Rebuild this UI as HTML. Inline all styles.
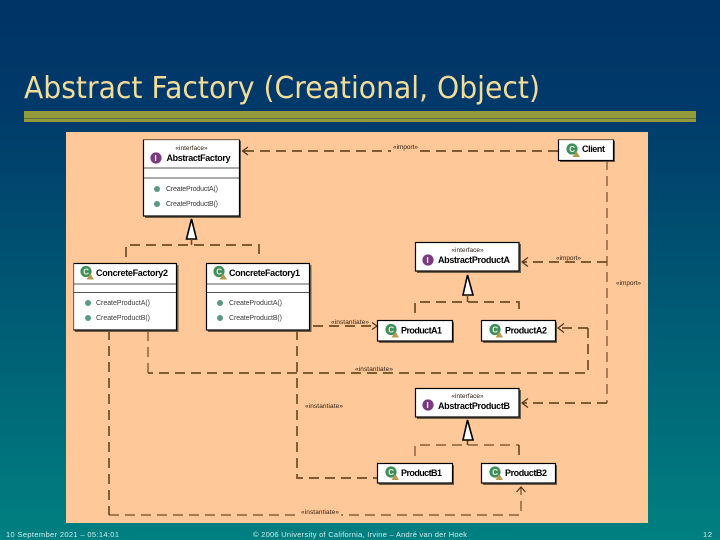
<!DOCTYPE html>
<html><head><meta charset="utf-8"><style>
html,body{margin:0;padding:0;width:720px;height:540px;overflow:hidden}
svg{display:block}
text{font-family:"Liberation Sans",sans-serif}
.d{fill:none;stroke:#6f4c24;stroke-width:1.7;stroke-dasharray:10 6}
.t{fill:none;stroke:#6f4c24;stroke-width:1.2;stroke-dasharray:10 6}
.s{font-size:6.5px;fill:#2e2214}
.n{font-size:9px;font-weight:bold;fill:#000}
.m{font-size:7px;fill:#3a3a3a}
.a{fill:none;stroke:#4e3418;stroke-width:1.2}
.b{fill:#fff;stroke:#000;stroke-width:1.2}
.h{fill:#555}
.f{font-size:7.500px;fill:#d4eeee}
</style></head><body>
<svg width="720" height="540" viewBox="0 0 720 540" xmlns="http://www.w3.org/2000/svg">
<defs>
<filter id="bl" x="0" y="0" width="1" height="1"><feGaussianBlur stdDeviation="0.25"/></filter>
<linearGradient id="g" x1="0" y1="0" x2="0" y2="1"><stop offset="0" stop-color="#003366"/><stop offset="0.2" stop-color="#003a6a"/><stop offset="1" stop-color="#008080"/></linearGradient>
<g id="c"><circle cx="0" cy="0" r="5.600" fill="#3f8f5a"/><text x="-2.800" y="2.800" font-size="8" font-weight="bold" fill="#e8f5e8">C</text><path d="M0.500 8L4.300 2L8 8Z" fill="#b59a50"/></g>
<g id="i"><circle cx="0" cy="0" r="5.600" fill="#7b3a80"/><text x="-1.700" y="3" font-size="8.500" font-weight="bold" fill="#fff">I</text></g>
</defs>
<rect width="720" height="540" fill="url(#g)"/>
<text x="24" y="98" font-size="30.500" fill="#f2dc98" textLength="516" lengthAdjust="spacingAndGlyphs" style="font-family:'DejaVu Sans',sans-serif">Abstract Factory (Creational, Object)</text>
<rect x="24" y="111" width="672" height="7.500" fill="#939a3c"/>
<rect x="24" y="118.500" width="672" height="1" fill="#1f3f3f"/>
<rect x="24" y="119" width="672" height="3" fill="#939a3c"/>
<rect x="66" y="132" width="582" height="391" fill="#ffc898"/>

<g filter="url(#bl)">
<!-- connectors -->
<path class="d" d="M558 151H243"/><path class="a" d="M248 147L242.500 151L248 155"/>
<path class="d" d="M126 257V245H259V257"/>
<path class="d" d="M313 326H377"/><path class="a" d="M372 322.500L377 326L372 329.500"/>
<path class="t" d="M607 160V403"/><path class="d" d="M607 403H523"/><path class="a" d="M528 398.500L522 403L528 407.500"/>
<path class="d" d="M607 262H523"/><path class="a" d="M528 257.500L522 262L528 266.500"/>
<path class="d" d="M415 313V302H519V313"/>
<path class="d" d="M588 328H559"/><path class="a" d="M564 323.500L558 328L564 332.500"/>
<path class="d" d="M588 328V373H148"/><path class="t" d="M148 373V330"/>
<path class="d" d="M297 330V478H377"/>
<path class="d" d="M109 330V515"/><path class="t" d="M109 515H521V488"/><path class="a" d="M516.500 492L521 487L525.500 492"/>
<path class="t" d="M415 456V445H519"/><path class="d" d="M519 445V456"/>
<path class="d" d="M467.500 440V445"/>

<!-- triangles -->
<path d="M191.500 219L186.500 239H196.500Z" fill="#fff" stroke="#000" stroke-width="1.600"/><path d="M191.500 239V245" stroke="#6f4c24" stroke-width="1.600"/>
<path d="M467.500 275L463 295H473Z" fill="#fff" stroke="#000" stroke-width="1.600"/><path d="M467.500 295V302" stroke="#6f4c24" stroke-width="1.600"/>
<path d="M467.500 420L463 440H473Z" fill="#fff" stroke="#000" stroke-width="1.600"/>

<!-- boxes -->
<g>
<rect x="145" y="141" width="96" height="77" fill="#6e5e4c"/>
<rect class="b" x="143.500" y="139.500" width="96" height="76.500"/>
<rect x="144" y="167.500" width="95" height="1" class="h"/><rect x="144" y="177.500" width="95" height="1" class="h"/>
<text class="s" x="191.500" y="150" text-anchor="middle">«interface»</text>
<use href="#i" x="156" y="158"/>
<text class="n" x="166.500" y="161" textLength="64">AbstractFactory</text>
<circle cx="157" cy="189" r="3" fill="#5a9a80"/><text class="m" x="166" y="191" textLength="52">CreateProductA()</text>
<circle cx="157" cy="204" r="3" fill="#5a9a80"/><text class="m" x="166" y="206" textLength="52">CreateProductB()</text>
</g>
<g>
<rect x="75" y="265" width="103.500" height="67" fill="#6e5e4c"/>
<rect class="b" x="73.500" y="263.500" width="103" height="66.500"/>
<rect x="74" y="283.500" width="102" height="1" class="h"/><rect x="74" y="292" width="102" height="1" class="h"/>
<use href="#c" x="86" y="271.500"/>
<text class="n" x="96" y="276" textLength="72">ConcreteFactory2</text>
<circle cx="88" cy="303" r="3" fill="#5a9a80"/><text class="m" x="96" y="305" textLength="54">CreateProductA()</text>
<circle cx="88" cy="318" r="3" fill="#5a9a80"/><text class="m" x="96" y="320" textLength="54">CreateProductB()</text>
</g>
<g>
<rect x="208" y="265" width="103.500" height="67" fill="#6e5e4c"/>
<rect class="b" x="206.500" y="263.500" width="103" height="66.500"/>
<rect x="207" y="283.500" width="102" height="1" class="h"/><rect x="207" y="292" width="102" height="1" class="h"/>
<use href="#c" x="219" y="271.500"/>
<text class="n" x="229" y="276" textLength="71">ConcreteFactory1</text>
<circle cx="220" cy="303" r="3" fill="#5a9a80"/><text class="m" x="229" y="305" textLength="53">CreateProductA()</text>
<circle cx="220" cy="318" r="3" fill="#5a9a80"/><text class="m" x="229" y="320" textLength="53">CreateProductB()</text>
</g>
<g>
<rect x="560" y="141" width="55" height="21" fill="#6e5e4c"/>
<rect class="b" x="558.500" y="139.500" width="55" height="21"/>
<use href="#c" x="572" y="149"/>
<text class="n" x="582" y="152" textLength="23">Client</text>
</g>
<g>
<rect x="417" y="244" width="104" height="29" fill="#6e5e4c"/>
<rect class="b" x="415.500" y="242.500" width="103.500" height="28.500"/>
<text class="s" x="467.500" y="252" text-anchor="middle">«interface»</text>
<use href="#i" x="428" y="260"/>
<text class="n" x="438" y="263" textLength="72">AbstractProductA</text>
</g>
<g>
<rect x="379" y="322" width="75" height="21" fill="#6e5e4c"/>
<rect class="b" x="377.500" y="320.500" width="75" height="20.500"/>
<use href="#c" x="391" y="329.500"/>
<text class="n" x="401" y="333.500" textLength="41">ProductA1</text>
</g>
<g>
<rect x="483" y="322" width="74" height="21" fill="#6e5e4c"/>
<rect class="b" x="481.500" y="320.500" width="74" height="20.500"/>
<use href="#c" x="495" y="329.500"/>
<text class="n" x="505" y="333.500" textLength="42">ProductA2</text>
</g>
<g>
<rect x="417" y="390" width="104" height="29" fill="#6e5e4c"/>
<rect class="b" x="415.500" y="388.500" width="103.500" height="28.500"/>
<text class="s" x="467.500" y="398" text-anchor="middle">«interface»</text>
<use href="#i" x="428" y="405"/>
<text class="n" x="438" y="409" textLength="72">AbstractProductB</text>
</g>
<g>
<rect x="379" y="465" width="75" height="20" fill="#6e5e4c"/>
<rect class="b" x="377.500" y="463.500" width="75" height="19.500"/>
<use href="#c" x="391" y="472"/>
<text class="n" x="401" y="476" textLength="41">ProductB1</text>
</g>
<g>
<rect x="483" y="465" width="74" height="20" fill="#6e5e4c"/>
<rect class="b" x="481.500" y="463.500" width="74" height="19.500"/>
<use href="#c" x="495" y="472"/>
<text class="n" x="505" y="476" textLength="42">ProductB2</text>
</g>

<!-- labels -->
<rect x="391" y="148" width="28" height="6" fill="#ffc898"/>
<rect x="299" y="512" width="42" height="6" fill="#ffc898"/>
<text class="s" x="393" y="149" textLength="25">«import»</text>
<text class="s" x="556" y="260" textLength="25">«import»</text>
<text class="s" x="616" y="285" textLength="25">«import»</text>
<text class="s" x="331" y="324" textLength="38">«instantiate»</text>
<text class="s" x="355" y="371" textLength="38">«instantiate»</text>
<text class="s" x="305" y="408" textLength="38">«instantiate»</text>
<text class="s" x="301" y="514" textLength="38">«instantiate»</text>
</g>

<!-- footer -->
<text class="f" x="6" y="537" textLength="113">10 September 2021 – 05:14:01</text>
<text class="f" x="253" y="537" textLength="214">© 2006 University of California, Irvine – André van der Hoek</text>
<text class="f" x="703" y="537" textLength="9">12</text>
</svg>
</body></html>
